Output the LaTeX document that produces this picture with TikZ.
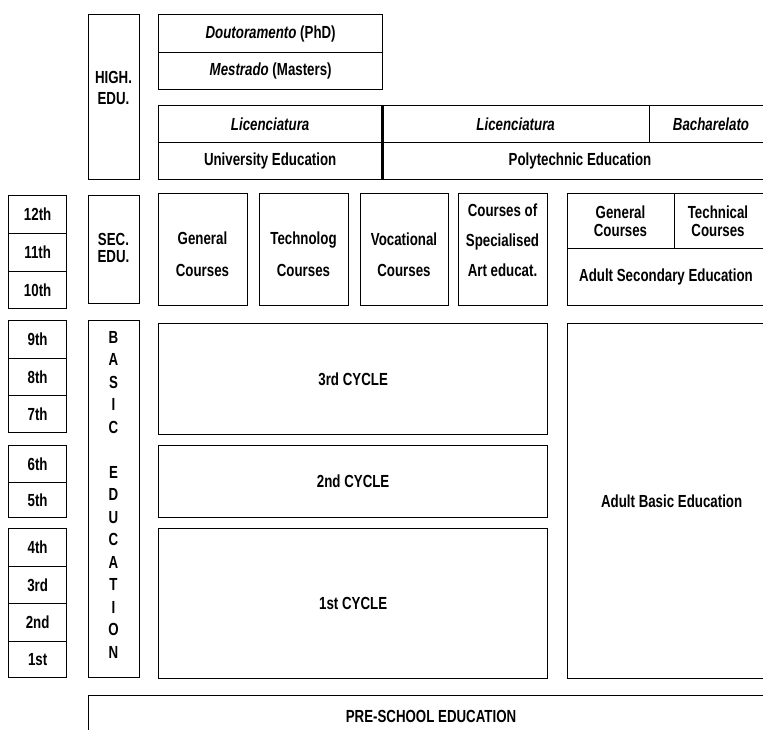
\documentclass[tikz,border=0pt]{standalone}
\usepackage{fontspec}
\setmainfont{Liberation Sans}[FakeStretch=0.76]
\begin{document}
\begin{tikzpicture}[x=1pt,y=-1pt,
  box/.style={draw=black,line width=1.3pt,rectangle,inner sep=0pt,anchor=north west,
    font=\fontsize{17.5}{19}\selectfont\bfseries},
  lbl/.style={inner sep=0pt,align=center,font=\fontsize{17.5}{19}\selectfont\bfseries},
  thickdiv/.style={line width=2.6pt,draw=black}
]
\useasboundingbox (0,0) rectangle (763,729);
% ---------- grade column ----------
\node[box,minimum width=58pt,minimum height=38pt] (g12) at (8,195) {12th};
\node[box,minimum width=58pt,minimum height=38pt] (g11) at (8,233) {11th};
\node[box,minimum width=58pt,minimum height=37pt] (g10) at (8,271) {10th};
\node[box,minimum width=58pt,minimum height=38pt] (g9) at (8,320) {9th};
\node[box,minimum width=58pt,minimum height=37pt] (g8) at (8,358) {8th};
\node[box,minimum width=58pt,minimum height=37pt] (g7) at (8,395) {7th};
\node[box,minimum width=58pt,minimum height=37pt] (g6) at (8,445) {6th};
\node[box,minimum width=58pt,minimum height=35pt] (g5) at (8,482) {5th};
\node[box,minimum width=58pt,minimum height=38pt] (g4) at (8,528) {4th};
\node[box,minimum width=58pt,minimum height=37pt] (g3) at (8,566) {3rd};
\node[box,minimum width=58pt,minimum height=38pt] (g2) at (8,603) {2nd};
\node[box,minimum width=58pt,minimum height=36pt] (g1) at (8,641) {1st};
% ---------- level column ----------
\node[box,minimum width=51pt,minimum height=165pt] (high) at (88,14) {};
\node[lbl,font=\fontsize{17.5}{21}\selectfont\bfseries] (hight) at (113.5,88) {HIGH.\\EDU.};
\node[box,minimum width=51pt,minimum height=108pt] (sec) at (88,195) {};
\node[lbl,font=\fontsize{17.5}{17}\selectfont\bfseries] (sect) at (113.5,248) {SEC.\\EDU.};
\node[box,minimum width=51pt,minimum height=357pt] (basic) at (88,320) {};
\node[lbl,font=\fontsize{17.5}{22.5}\selectfont\bfseries] (basict) at (113.5,494.5)
  {B\\A\\S\\I\\C\\~\\E\\D\\U\\C\\A\\T\\I\\O\\N};
% ---------- higher education ----------
\node[box,minimum width=224pt,minimum height=38pt] (phd) at (158,14) {\itshape Doutoramento\upshape{} (PhD)};
\node[box,minimum width=224pt,minimum height=37pt] (msc) at (158,52) {\itshape Mestrado\upshape{} (Masters)};
\node[box,minimum width=223pt,minimum height=37pt] (ulic) at (158,105) {\itshape Licenciatura};
\node[box,minimum width=223pt,minimum height=37pt] (uedu) at (158,142) {University Education};
\node[box,minimum width=268pt,minimum height=37pt] (plic) at (381,105) {\itshape Licenciatura};
\node[box,minimum width=126pt,minimum height=37pt] (bach) at (649,105) {};
\node[lbl] (bacht) at (711,124) {\itshape Bacharelato};
\node[box,minimum width=394pt,minimum height=37pt] (pedu) at (381,142) {};
\node[lbl] (pedut) at (580,161) {Polytechnic Education};
\draw[thickdiv] (ulic.north east) -- (uedu.south east);
% ---------- secondary ----------
\node[box,minimum width=89pt,minimum height=112pt] (gen) at (158,193) {};
\node[lbl,font=\fontsize{17.5}{32}\selectfont\bfseries] (gent) at (202.5,254) {General\\Courses};
\node[box,minimum width=89pt,minimum height=112pt] (tec) at (259,193) {};
\node[lbl,font=\fontsize{17.5}{32}\selectfont\bfseries] (tect) at (303.5,254) {Technolog\\Courses};
\node[box,minimum width=88pt,minimum height=112pt] (voc) at (360,193) {};
\node[lbl,font=\fontsize{17.5}{31}\selectfont\bfseries] (voct) at (404,255) {Vocational\\Courses};
\node[box,minimum width=89pt,minimum height=112pt] (art) at (458,193) {};
\node[lbl,font=\fontsize{17.5}{30}\selectfont\bfseries] (artt) at (502.5,240) {Courses of\\Specialised\\Art educat.};
\node[box,minimum width=107pt,minimum height=55pt] (agen) at (567,193) {};
\node[lbl,font=\fontsize{17.5}{18}\selectfont\bfseries] (agent) at (620.5,221) {General\\Courses};
\node[box,minimum width=91pt,minimum height=55pt] (atec) at (674,193) {};
\node[lbl,font=\fontsize{17.5}{18}\selectfont\bfseries] (atect) at (718,221) {Technical\\Courses};
\node[box,minimum width=198pt,minimum height=57pt] (asec) at (567,248) {};
\node[lbl] (asect) at (666,277) {Adult Secondary Education};
% ---------- basic ----------
\node[box,minimum width=389pt,minimum height=111pt] (c3) at (158,323) {3rd CYCLE};
\node[box,minimum width=389pt,minimum height=72pt] (c2) at (158,445) {2nd CYCLE};
\node[box,minimum width=389pt,minimum height=150pt] (c1) at (158,528) {1st CYCLE};
\node[box,minimum width=208pt,minimum height=355pt] (abe) at (567,323) {Adult Basic Education};
% ---------- pre-school ----------
\node[box,minimum width=687pt,minimum height=50pt] (pre) at (88,695) {};
\node[lbl] (pret) at (431,716) {PRE-SCHOOL EDUCATION};
\end{tikzpicture}
\end{document}
